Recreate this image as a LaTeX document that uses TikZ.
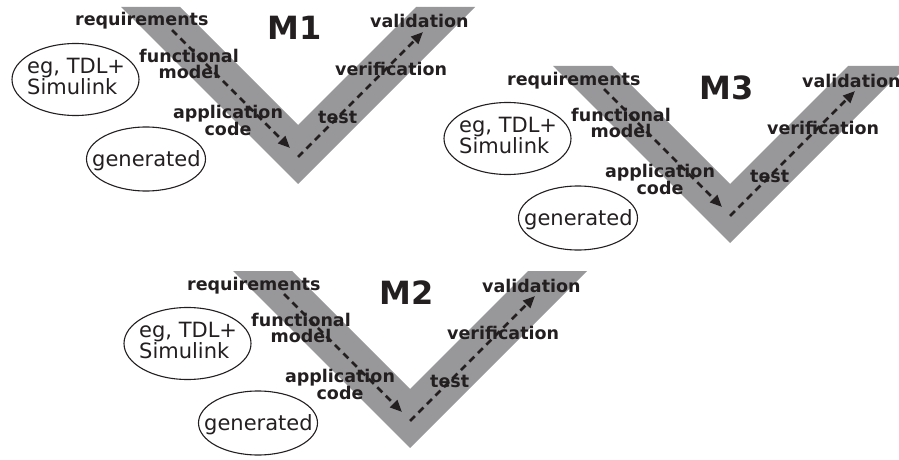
\documentclass[tikz,border=0pt]{standalone}
\usepackage{fontspec}
\setmainfont{DejaVu Sans}
\usetikzlibrary{arrows.meta,shapes.geometric}
\definecolor{vgrey}{RGB}{152,152,154}
\definecolor{ink}{RGB}{35,31,32}
\begin{document}
\begin{tikzpicture}[x=1pt,y=-1pt,
  phase/.style={font=\fontsize{17.5}{15.5}\selectfont\bfseries, text=ink, inner sep=0pt, align=center},
  tool/.style={draw=ink, line width=1.1pt, ellipse, inner sep=0pt},
  tooltext/.style={font=\fontsize{21}{19}\selectfont, text=ink, inner sep=0pt, align=left},
  flow/.style={draw=ink, line width=2.8pt, dash pattern=on 7pt off 5pt,
    -{Triangle[length=12pt,width=10pt]}},
  title/.style={font=\fontsize{32}{32}\selectfont\bfseries, text=ink, inner sep=0pt, anchor=base west}]
\useasboundingbox (0,0) rectangle (899,460);
% three copies of the V-model, each shifted into place
\foreach \dx/\dy/\t/\p in {0/0/M1/a,432/59/M3/c,112/264/M2/b}{
\begin{scope}[shift={(\dx,\dy)}]
  % grey V band
  \fill[vgrey] (121,7) -- (180,7) -- (298,125) -- (416,7) -- (475,7) -- (298,184) -- cycle;
  % process flow along the V
  \coordinate (\p-s)  at (172,30);
  \coordinate (\p-b1) at (290,148);
  \coordinate (\p-b2) at (298,157);
  \coordinate (\p-e)  at (423,32);
  \draw[flow] (\p-s) -- (\p-b1);
  \draw[flow] (\p-b2) -- (\p-e);
  % title and phase labels
  \node[title] (\p-title) at (267,40) {\t};
  \node[phase, anchor=base west] (\p-req) at (75,26) {requirements};
  \node[phase] (\p-fun) at (189,64) {functional\\model};
  \node[phase] (\p-app) at (228,120.5) {application\\code};
  \node[phase, anchor=base west] (\p-val) at (370,28) {validation};
  \node[phase, anchor=base west] (\p-ver) at (335,75) {verification};
  \node[phase, anchor=base west] (\p-tst) at (318,123) {test};
  % tool ellipses with their texts
  \node[tool, minimum width=127pt, minimum height=72pt] (\p-tdl) at (75.5,79.5) {};
  \node[tooltext, anchor=north west] (\p-tdltxt) at (27,57.7) {eg, TDL+\\Simulink};
  \node[tool, minimum width=119pt, minimum height=64pt] (\p-gen) at (146,159) {};
  \node[tooltext, anchor=base west] (\p-gentxt) at (92,166) {generated};
\end{scope}}
\end{tikzpicture}
\end{document}
